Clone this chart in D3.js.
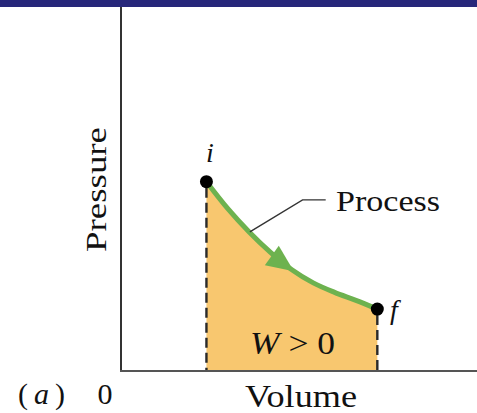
<!DOCTYPE html>
<html>
<head>
<meta charset="utf-8">
<script src="https://cdn.jsdelivr.net/npm/d3@7"></script>
<style>
  html, body { margin: 0; padding: 0; background: #fff; }
  svg { display: block; }
</style>
</head>
<body>
<svg id="chart" width="477" height="413"></svg>
<script>
// Expansion path from state i to state f on a p-V diagram
const volume   = [2.4, 3.0, 3.6, 4.2, 4.8, 5.4, 6.0, 6.6, 7.2];
const pressure = [5.2, 4.46, 3.82, 3.26, 2.78, 2.42, 2.16, 1.94, 1.7];
const states   = [{ name: "i", v: 2.4, p: 5.2 }, { name: "f", v: 7.2, p: 1.7 }];
const arrowAtVolume = 4.85;
const volumeDomain = [0, 10];
const pressureDomain = [0, 10];

const FONT = "Liberation Serif";

const svg = d3.select("#chart");
const W = 477, H = 413;

// title band along the top edge
svg.append("rect").attr("x", 0).attr("y", 0).attr("width", W).attr("height", 7)
  .attr("fill", "#27277a");

const x = d3.scaleLinear().domain(volumeDomain).range([121, 477]);
const y = d3.scaleLinear().domain(pressureDomain).range([371, 7]);

const pts = volume.map((v, k) => ({ v, p: pressure[k] }));
const curve = d3.curveMonotoneX;

// work area under the path
svg.append("path")
  .datum(pts)
  .attr("d", d3.area().x(d => x(d.v)).y0(y(0)).y1(d => y(d.p)).curve(curve))
  .attr("fill", "#f8c76f");

// dashed drop lines from the end states
svg.selectAll("line.drop")
  .data(states)
  .join("line")
  .attr("class", "drop")
  .attr("x1", d => x(d.v)).attr("x2", d => x(d.v))
  .attr("y1", d => y(d.p) + 6).attr("y2", y(0))
  .attr("stroke", "#2a2a2a")
  .attr("stroke-width", 2.4)
  .attr("stroke-dasharray", "10,5");

// axes: plain lines, no ticks
svg.append("line")
  .attr("x1", x(0)).attr("x2", x(0)).attr("y1", 7).attr("y2", y(0) + 1)
  .attr("stroke", "#333").attr("stroke-width", 2);
svg.append("line")
  .attr("x1", x(0) - 1).attr("x2", W).attr("y1", y(0)).attr("y2", y(0))
  .attr("stroke", "#555").attr("stroke-width", 2);

// process path
const pathLine = svg.append("path")
  .datum(pts)
  .attr("d", d3.line().x(d => x(d.v)).y(d => y(d.p)).curve(curve))
  .attr("fill", "none")
  .attr("stroke", "#6db24f")
  .attr("stroke-width", 5)
  .attr("stroke-linecap", "round");

// direction arrow on the path
(function () {
  const node = pathLine.node();
  const len = node.getTotalLength();
  const tx = x(arrowAtVolume);
  let best = 0, bestD = Infinity;
  for (let s = 0; s <= len; s += 0.5) {
    const q = node.getPointAtLength(s);
    const dd = Math.abs(q.x - tx);
    if (dd < bestD) { bestD = dd; best = s; }
  }
  const tip = node.getPointAtLength(best);
  const back = node.getPointAtLength(Math.max(0, best - 4));
  const ang = Math.atan2(tip.y - back.y, tip.x - back.x);
  const L = 27, hw = 12;
  const bx = tip.x - L * Math.cos(ang), by = tip.y - L * Math.sin(ang);
  const nx = -Math.sin(ang), ny = Math.cos(ang);
  svg.append("path")
    .attr("d", `M${tip.x},${tip.y}L${bx + nx * hw},${by + ny * hw}L${bx - nx * hw},${by - ny * hw}Z`)
    .attr("fill", "#6db24f");
})();

// leader line to the "Process" label
const leader = [[3.62, 3.82], [5.1, 4.7], [5.75, 4.7]];
svg.append("path")
  .attr("d", d3.line().x(d => x(d[0])).y(d => y(d[1]))(leader))
  .attr("fill", "none")
  .attr("stroke", "#333")
  .attr("stroke-width", 1.4);

// state markers
svg.selectAll("circle.state")
  .data(states)
  .join("circle")
  .attr("class", "state")
  .attr("cx", d => x(d.v)).attr("cy", d => y(d.p))
  .attr("r", 6.5)
  .attr("fill", "#000");

// labels
function label(xp, yp, size) {
  return svg.append("text").attr("x", xp).attr("y", yp)
    .attr("font-family", FONT).attr("font-size", size).attr("fill", "#111");
}

label(206, 162, 28).attr("font-style", "italic").text("i");
label(390, 319, 28).attr("font-style", "italic").text("f");

label(336, 211, 30)
  .attr("textLength", 104).attr("lengthAdjust", "spacingAndGlyphs").text("Process");

const wl = label(250, 354, 32)
  .attr("textLength", 85).attr("lengthAdjust", "spacingAndGlyphs");
wl.append("tspan").attr("font-style", "italic").text("W");
wl.append("tspan").text(" > 0");

label(245, 407, 32)
  .attr("textLength", 112).attr("lengthAdjust", "spacingAndGlyphs").text("Volume");

label(0, 0, 29)
  .attr("transform", "translate(106,252) rotate(-90)")
  .attr("textLength", 125).attr("lengthAdjust", "spacingAndGlyphs").text("Pressure");

const al = label(18, 404, 30)
  .attr("textLength", 47).attr("lengthAdjust", "spacing");
al.append("tspan").text("(");
al.append("tspan").attr("font-style", "italic").text("a");
al.append("tspan").text(")");

label(105, 404, 30).attr("text-anchor", "middle").text("0");
</script>
</body>
</html>
